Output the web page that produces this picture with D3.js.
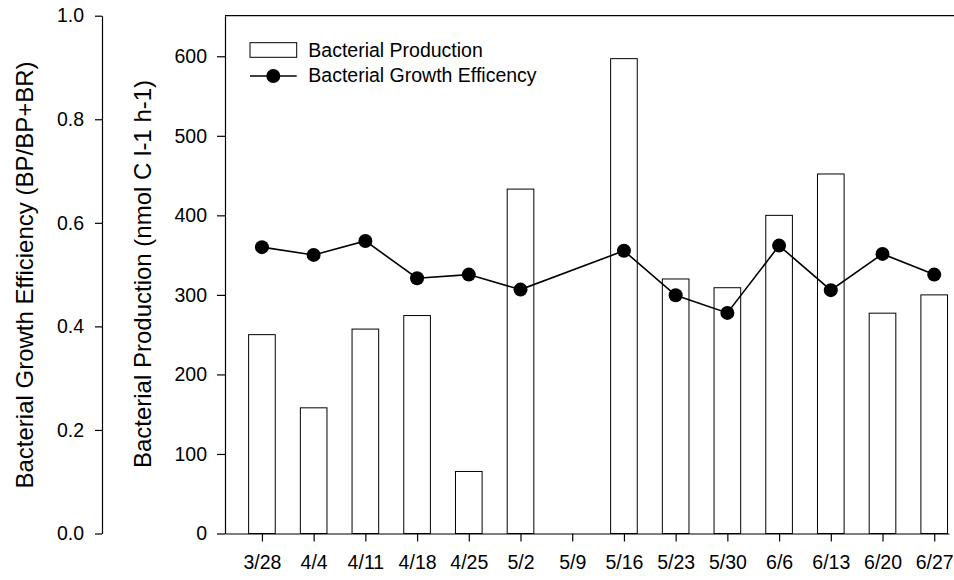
<!DOCTYPE html>
<html>
<head>
<meta charset="utf-8">
<script src="https://cdn.jsdelivr.net/npm/d3@7"></script>
<style>
  body { margin: 0; background: #fff; }
  text { font-family: "Liberation Sans", Arial, sans-serif; fill: #000; }
</style>
</head>
<body>
<div id="chart"></div>
<script>
"use strict";
// sampling dates (weekly)
var dates = ["3/28","4/4","4/11","4/18","4/25","5/2","5/9","5/16","5/23","5/30","6/6","6/13","6/20","6/27"];
// bacterial production, nmol C l-1 h-1 (no sample on 5/9)
var production = [250, 158, 257, 274, 78, 433, null, 597, 320, 309, 400, 452, 277, 300];
// bacterial growth efficiency BP/(BP+BR)
var efficiency = [0.553, 0.538, 0.565, 0.493, 0.500, 0.471, null, 0.546, 0.460, 0.426, 0.556, 0.470, 0.540, 0.500];
var bgeTicks = [0, 0.2, 0.4, 0.6, 0.8, 1.0];
var bpTicks = [0, 100, 200, 300, 400, 500, 600];
var xLimits = ["3/23", "6/29"];
var legendLabels = ["Bacterial Production", "Bacterial Growth Efficency"];

var W = 954, H = 580;
var parseDay = d3.timeParse("%m/%d/%Y");
function toDate(s) { return parseDay(s + "/2001"); }

var svg = d3.select("#chart").append("svg")
  .attr("width", W)
  .attr("height", H);

var x = d3.scaleTime()
  .domain(xLimits.map(toDate))
  .range([225, 949]);
var yBGE = d3.scaleLinear().domain([0, 1]).range([533.5, 15.7]);
var yBP = d3.scaleLinear().domain([0, 651]).range([533.5, 15.7]);

var step = x(toDate(dates[1])) - x(toDate(dates[0]));
var barW = step * 0.515;

var rows = dates.map(function(d, i) {
  return {date: toDate(d), bp: production[i], bge: efficiency[i]};
});

// bars
svg.append("g").attr("class", "bars")
  .selectAll("rect")
  .data(rows.filter(function(d) { return d.bp !== null; }))
  .enter().append("rect")
    .attr("x", function(d) { return x(d.date) - barW / 2; })
    .attr("y", function(d) { return yBP(d.bp); })
    .attr("width", barW)
    .attr("height", function(d) { return yBP(0) - yBP(d.bp); })
    .attr("fill", "#fff")
    .attr("stroke", "#000")
    .attr("stroke-width", 1);

// frame top line
svg.append("line")
  .attr("x1", 225).attr("x2", W)
  .attr("y1", yBP.range()[1]).attr("y2", yBP.range()[1])
  .attr("stroke", "#000").attr("stroke-width", 1.3);

// left BGE axis
var axBGE = svg.append("g")
  .attr("transform", "translate(102,0)")
  .call(d3.axisLeft(yBGE).tickValues(bgeTicks).tickFormat(d3.format(".1f"))
    .tickSize(7).tickSizeOuter(0).tickPadding(11));

// production axis
var axBP = svg.append("g")
  .attr("transform", "translate(225,0)")
  .call(d3.axisLeft(yBP).tickValues(bpTicks).tickSize(8).tickSizeOuter(0).tickPadding(10));

// bottom axis
var axX = svg.append("g")
  .attr("transform", "translate(0," + yBP(0) + ")")
  .call(d3.axisBottom(x).tickValues(rows.map(function(d) { return d.date; }))
    .tickFormat(function(d, i) { return dates[i]; })
    .tickSize(8).tickSizeOuter(0).tickPadding(14));

[axBGE, axBP, axX].forEach(function(a) {
  a.selectAll("path, line").attr("stroke", "#000").attr("stroke-width", 1.2);
  a.selectAll("text").attr("font-size", "19.5px").attr("font-family", null).attr("fill", "#000");
});

// efficiency line + dots
var pts = rows.filter(function(d) { return d.bge !== null; });
var line = d3.line()
  .x(function(d) { return x(d.date); })
  .y(function(d) { return yBGE(d.bge); });
svg.append("path")
  .datum(pts)
  .attr("d", line)
  .attr("fill", "none")
  .attr("stroke", "#000")
  .attr("stroke-width", 1.6);
svg.append("g").selectAll("circle")
  .data(pts)
  .enter().append("circle")
    .attr("cx", function(d) { return x(d.date); })
    .attr("cy", function(d) { return yBGE(d.bge); })
    .attr("r", 7)
    .attr("fill", "#000");

// axis titles
svg.append("text")
  .attr("transform", "translate(33,275) rotate(-90)")
  .attr("text-anchor", "middle")
  .attr("font-size", "24px")
  .text("Bacterial Growth Efficiency (BP/BP+BR)");
svg.append("text")
  .attr("transform", "translate(151,274) rotate(-90)")
  .attr("text-anchor", "middle")
  .attr("font-size", "24px")
  .text("Bacterial Production (nmol C l-1 h-1)");

// legend
var lg = svg.append("g").attr("class", "legend");
lg.append("rect")
  .attr("x", 250).attr("y", 42.7).attr("width", 46.7).attr("height", 14.6)
  .attr("fill", "#fff").attr("stroke", "#000").attr("stroke-width", 1);
lg.append("line")
  .attr("x1", 250).attr("x2", 296.7).attr("y1", 76).attr("y2", 76)
  .attr("stroke", "#000").attr("stroke-width", 1.6);
lg.append("circle")
  .attr("cx", 273.3).attr("cy", 76).attr("r", 7).attr("fill", "#000");
lg.selectAll("text.lab")
  .data(legendLabels)
  .enter().append("text")
    .attr("class", "lab")
    .attr("x", 308.3)
    .attr("y", function(d, i) { return 56.7 + i * 25; })
    .attr("font-size", "19.5px")
    .text(function(d) { return d; });
</script>
</body>
</html>
